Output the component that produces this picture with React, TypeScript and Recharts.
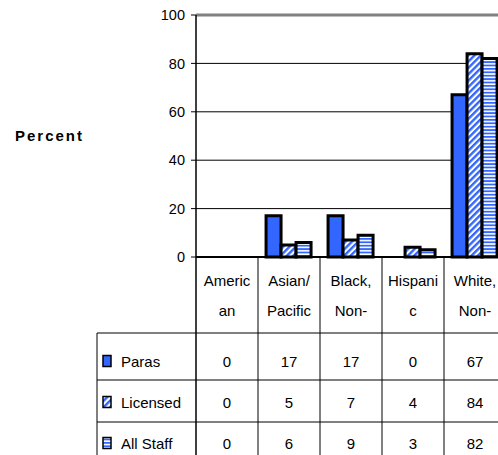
import {Bar, BarChart, CartesianGrid, ReferenceLine, XAxis, YAxis} from 'recharts';

// wrapped category headings, two visible lines each
const categoryLines = [
    ['Americ', 'an'],
    ['Asian/', 'Pacific'],
    ['Black,', 'Non-'],
    ['Hispani', 'c'],
    ['White,', 'Non-'],
];

const paras = [0, 17, 17, 0, 67];
const licensed = [0, 5, 7, 4, 84];
const allStaff = [0, 6, 9, 3, 82];

const yTicks = [0, 20, 40, 60, 80, 100];

const BLUE = '#3366FF';
const FONT = '"Liberation Sans", Arial, sans-serif';

const series = [
    {key: 'paras', name: 'Paras', values: paras, fill: BLUE},
    {key: 'licensed', name: 'Licensed', values: licensed, fill: 'url(#diag)'},
    {key: 'allStaff', name: 'All Staff', values: allStaff, fill: 'url(#horiz)'},
];

const data = categoryLines.map((lines, i) => ({
    name: lines.join(' '),
    paras: paras[i],
    licensed: licensed[i],
    allStaff: allStaff[i],
}));

const CHART_W = 512;
const CHART_H = 470;
const MARGIN = {top: 15, right: 6, left: 0, bottom: 0};
const Y_AXIS_W = 196;
const X_AXIS_H = 213;
const PLOT_W = CHART_W - MARGIN.left - MARGIN.right - Y_AXIS_W;
const BAND = PLOT_W / categoryLines.length;

// table rows below the axis, offsets from the axis line
const ROW_LINES = [76, 123, 165];
const ROW_TEXT = [104, 145, 186];
const LEGEND_LEFT = 97;

function TableTick(props: any) {
    const {x, y, index} = props;
    const left = x - BAND / 2;
    const right = x + BAND / 2;
    const bottom = CHART_H;
    const lines = categoryLines[index];
    const textStyle = {fontFamily: FONT, fontSize: 15, fill: '#000'};
    return (
        <g>
            <line x1={right} y1={y} x2={right} y2={bottom} stroke="#000" strokeWidth={1} />
            {ROW_LINES.map((r) => (
                <line key={r} x1={index === 0 ? LEGEND_LEFT : left} y1={y + r} x2={right} y2={y + r} stroke="#000" strokeWidth={1} />
            ))}
            <text x={x} y={y + 23} textAnchor="middle" dominantBaseline="central" style={textStyle}>{lines[0]}</text>
            <text x={x} y={y + 53} textAnchor="middle" dominantBaseline="central" style={textStyle}>{lines[1]}</text>
            {series.map((s, r) => (
                <text key={s.key} x={x} y={y + ROW_TEXT[r]} textAnchor="middle" dominantBaseline="central" style={textStyle}>
                    {s.values[index]}
                </text>
            ))}
            {index === 0 && (
                <g>
                    <line x1={left} y1={y} x2={left} y2={bottom} stroke="#000" strokeWidth={1.5} />
                    <line x1={LEGEND_LEFT} y1={y + ROW_LINES[0]} x2={LEGEND_LEFT} y2={bottom} stroke="#000" strokeWidth={1} />
                    {series.map((s, r) => (
                        <g key={s.key}>
                            <rect x={LEGEND_LEFT + 6} y={y + ROW_TEXT[r] - 5.5} width={8} height={11} fill={s.fill} stroke="#000" strokeWidth={1.5} />
                            <text x={LEGEND_LEFT + 24} y={y + ROW_TEXT[r]} dominantBaseline="central" style={textStyle}>{s.name}</text>
                        </g>
                    ))}
                </g>
            )}
        </g>
    );
}

export default function StaffEthnicityChart() {
    return (
        <div style={{position: 'absolute', left: 0, top: 0, width: 498, height: 455, overflow: 'hidden', background: '#fff'}}>
            <BarChart
                width={CHART_W}
                height={CHART_H}
                data={data}
                margin={MARGIN}
                barCategoryGap="13%"
                barGap={0}
            >
                <defs>
                    <pattern id="diag" patternUnits="userSpaceOnUse" width={4.5} height={4.5} patternTransform="rotate(45)">
                        <rect width={4.5} height={4.5} fill="#fff" />
                        <rect width={2.4} height={4.5} fill={BLUE} />
                    </pattern>
                    <pattern id="horiz" patternUnits="userSpaceOnUse" width={4} height={3.4}>
                        <rect width={4} height={3.4} fill="#fff" />
                        <rect width={4} height={1.8} fill={BLUE} />
                    </pattern>
                </defs>
                <CartesianGrid vertical={false} stroke="#000" strokeWidth={1} />
                <XAxis
                    dataKey="name"
                    height={X_AXIS_H}
                    interval={0}
                    tickLine={false}
                    tickSize={0}
                    tickMargin={0}
                    axisLine={{stroke: '#000', strokeWidth: 2}}
                    tick={<TableTick />}
                />
                <YAxis
                    width={Y_AXIS_W}
                    domain={[0, 100]}
                    ticks={yTicks}
                    interval={0}
                    tickSize={5}
                    tickMargin={6}
                    axisLine={{stroke: '#000', strokeWidth: 1.5}}
                    tickLine={{stroke: '#000'}}
                    tick={{fontFamily: FONT, fontSize: 14.5, fill: '#000'}}
                    label={{
                        value: 'Percent',
                        position: 'insideLeft',
                        offset: 15,
                        style: {fontFamily: FONT, fontSize: 15, fontWeight: 'bold', fill: '#000', letterSpacing: 2},
                    }}
                />
                <ReferenceLine y={100} stroke="#808080" strokeWidth={3} />
                {series.map((s) => (
                    <Bar
                        key={s.key}
                        dataKey={s.key}
                        name={s.name}
                        fill={s.fill}
                        stroke="#000"
                        strokeWidth={3}
                        isAnimationActive={false}
                    />
                ))}
            </BarChart>
        </div>
    );
}
